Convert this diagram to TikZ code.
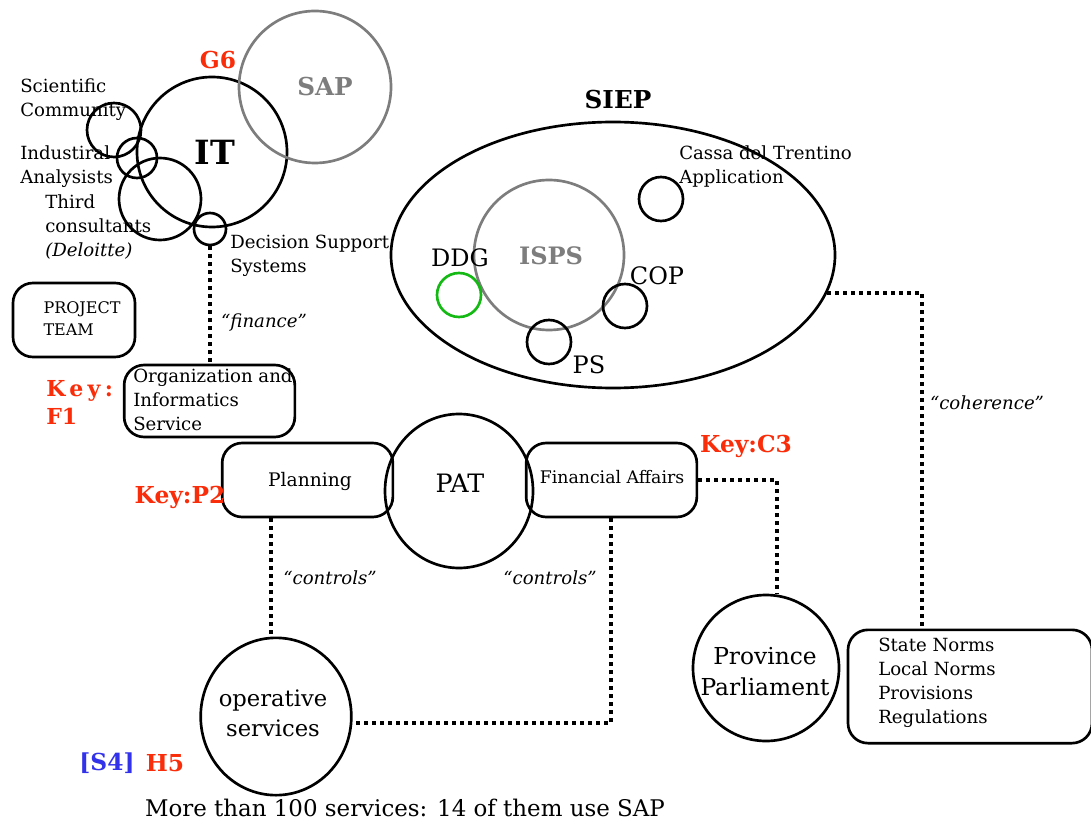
\documentclass[tikz,border=0pt]{standalone}
\usepackage{fontspec}
\setmainfont{DejaVu Serif}
\usetikzlibrary{shapes.geometric}
\definecolor{keyred}{RGB}{250,45,10}
\definecolor{keyblue}{RGB}{50,50,235}
\definecolor{sapgray}{RGB}{125,125,125}
\definecolor{ddggreen}{RGB}{20,185,20}
\newcommand\fsz[2]{\fontsize{#1}{#2}\selectfont}
\begin{document}
\begin{tikzpicture}[x=0.75pt,y=-0.75pt,
 circ/.style={circle,draw,line width=2pt,inner sep=0pt,minimum size=#1},
 ell/.style={ellipse,draw,line width=2pt,inner sep=0pt},
 rbox/.style={draw,rounded corners=15pt,line width=2pt,inner sep=0pt},
 lbl/.style={inner sep=0pt,align=left,font=\fsz{13.6}{18}},
 dotline/.style={line width=2.6pt,dash pattern=on 2.6pt off 3.4pt},
 keylbl/.style={inner sep=0pt,text=keyred,font=\bfseries\fsz{17.5}{21}},
]
\useasboundingbox (0,0) rectangle (1091,823);

% ---- IT cluster
\node[circ=112.5pt] (it) at (212,152) {};
\node[circ=114pt,draw=sapgray] (sap) at (315,87) {};
\node[circ=40.5pt] (sci) at (114,130) {};
\node[circ=30pt] (ind) at (137,158) {};
\node[circ=61.5pt] (third) at (160,199) {};
\node[circ=24pt] (dss) at (210,229) {};

\node[inner sep=0pt,font=\bfseries\fsz{25}{30}] (ittxt) at (215,152) {IT};
\node[inner sep=0pt,text=sapgray,font=\bfseries\fsz{18.5}{22}] (saptxt) at (325,87) {SAP};
\node[keylbl] (g6) at (218,60) {G6};
\node[lbl,anchor=west] (scitxt) at (20,100) {Scientific\\Community};
\node[lbl,anchor=west] (indtxt) at (20,166.5) {Industiral\\Analysists};
\node[lbl,anchor=west] (thirdtxt) at (45,227) {Third\\consultants\\\textit{(Deloitte)}};
\node[lbl,anchor=west] (dsstxt) at (230,256) {Decision Support\\Systems};

% ---- SIEP
\node[ell,minimum width=333pt,minimum height=199.5pt] (siep) at (613,255) {};
\node[inner sep=0pt,font=\bfseries\fsz{18.5}{22}] (sieptxt) at (618,100) {SIEP};
\node[circ=112.5pt,draw=sapgray] (isps) at (549,255) {};
\node[inner sep=0pt,text=sapgray,font=\bfseries\fsz{18}{22}] (ispstxt) at (551,256) {ISPS};
\node[circ=33pt,draw=ddggreen] (ddg) at (459,295) {};
\node[inner sep=0pt,font=\fsz{18}{22}] (ddgtxt) at (460,258) {DDG};
\node[circ=33pt] (cassa) at (661,199) {};
\node[lbl,anchor=west] (cassatxt) at (679,166.5) {Cassa del Trentino\\Application};
\node[circ=33pt] (cop) at (625,306) {};
\node[inner sep=0pt,font=\fsz{18}{22}] (coptxt) at (657,276) {COP};
\node[circ=33pt] (ps) at (549,342) {};
\node[inner sep=0pt,font=\fsz{18}{22}] (pstxt) at (589,365) {PS};

% ---- left boxes
\node[rbox,minimum width=91.5pt,minimum height=55.5pt] (team) at (74,320) {};
\node[inner sep=0pt,align=left,font=\fsz{12}{16.5}] (teamtxt) at (82,319) {PROJECT\\TEAM};
\node[rbox,minimum width=128pt,minimum height=54pt] (org) at (209.5,401) {};
\node[lbl,anchor=west] (orgtxt) at (133,400) {Organization and\\Informatics\\Service};
\node[keylbl,anchor=west,align=left,font=\bfseries\fsz{16.5}{21}] (keyf) at (46,402) {\addfontfeature{LetterSpace=20}Key:\\F1};
\draw[dotline] (dss.south) -- (dss.south |- org.north);
\node[inner sep=0pt,font=\itshape\fsz{13.6}{18}] (fin1) at (264,322) {“finance”};

% ---- PAT row
\node[rbox,minimum width=128pt,minimum height=55.5pt] (plan) at (307.5,480) {};
\node[inner sep=0pt,font=\fsz{14}{18}] (plantxt) at (310,481) {Planning};
\node[rbox,minimum width=128pt,minimum height=55.5pt] (fin) at (611.5,480) {};
\node[inner sep=0pt,font=\fsz{13}{18}] (fintxt) at (612,477) {Financial Affairs};
\node[ell,minimum width=111pt,minimum height=115.5pt] (pat) at (459,491) {};
\node[inner sep=0pt,font=\fsz{19}{24}] (pattxt) at (460,483) {PAT};
\node[keylbl] (keyp) at (180,497) {Key:P2};
\node[keylbl] (keyc) at (746,446) {Key:C3};

% ---- bottom
\node[ell,minimum width=113pt,minimum height=118pt] (ops) at (276,716.5) {};
\node[inner sep=0pt,align=center,font=\fsz{17}{22.5}] (opstxt) at (273,713) {operative\\services};
\node[circ=109.5pt] (pp) at (766,668) {};
\node[inner sep=0pt,align=center,font=\fsz{17.5}{23}] (pptxt) at (765,671.5) {Province\\Parliament};
\node[rbox,minimum width=183pt,minimum height=85pt] (norms) at (970,686.5) {};
\node[lbl,anchor=west] (normstxt) at (878,683) {State Norms\\Local Norms\\Provisions\\Regulations};

\node[inner sep=0pt,text=keyblue,font=\bfseries\fsz{17.5}{21}] (s4) at (107,763) {[S4]};
\node[keylbl] (h5) at (165,763) {H5};
\node[inner sep=0pt,font=\fsz{17.2}{20}] (more) at (405,808) {More than 100 services: 14 of them use SAP};

% ---- connectors
\coordinate (c1) at (271,517);
\draw[dotline] (plan.south -| c1) -- (ops.north -| c1);
\node[inner sep=0pt,font=\itshape\fsz{13.6}{18}] (ctl1) at (330,578) {“controls”};
\coordinate (c2) at (611,723);
\draw[dotline] (fin.south -| c2) -- (c2) -- (ops.east |- c2);
\node[inner sep=0pt,font=\itshape\fsz{13.6}{18}] (ctl2) at (550,578) {“controls”};
\coordinate (c3) at (777,480);
\draw[dotline] (fin.east) -- (c3) -- (pp.north -| c3);
\coordinate (c4) at (922,293);
\draw[dotline] (siep.-10) -- (siep.-10 -| c4) -- (norms.north -| c4);
\node[inner sep=0pt,font=\itshape\fsz{13.6}{18}] (coh) at (987,403) {“coherence”};
\end{tikzpicture}
\end{document}
